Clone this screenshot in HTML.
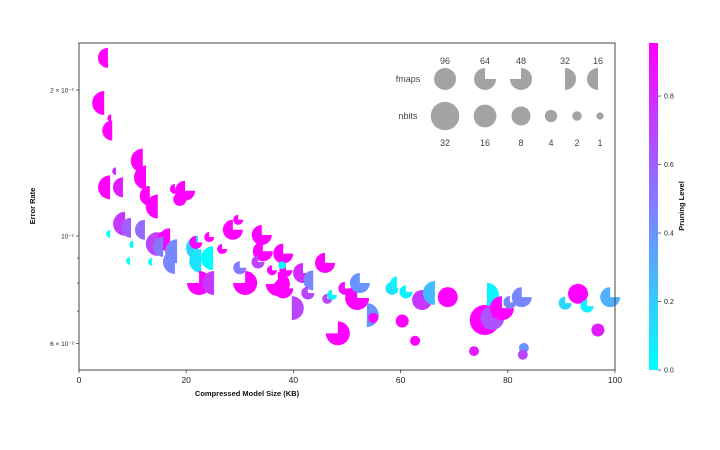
<!DOCTYPE html>
<html><head><meta charset="utf-8">
<style>
html,body{margin:0;padding:0;background:#fff;}
svg{display:block;font-family:"Liberation Sans","DejaVu Sans",sans-serif;}
</style></head>
<body>
<svg id="chart" width="720" height="450" viewBox="0 0 720 450">
  <defs>
    <linearGradient id="cbar" x1="0" y1="1" x2="0" y2="0">
      <stop offset="0" stop-color="#00ffff"/>
      <stop offset="1" stop-color="#ff00ff"/>
    </linearGradient>
  </defs>
  <g id="marks"></g>
  <rect x="79" y="43" width="536" height="327" fill="none" stroke="#444" stroke-width="1"/>
  <g id="axes"></g>
  <text x="247" y="396" font-size="7.5" font-weight="bold" text-anchor="middle" fill="#111">Compressed Model Size (KB)</text>
  <text x="0" y="0" font-size="7.5" font-weight="bold" text-anchor="middle" fill="#111" transform="translate(35,206) rotate(-90)">Error Rate</text>
  <g id="legend"></g>
  <rect x="649" y="43" width="9" height="327" fill="url(#cbar)"/>
  <g id="cbticks"></g>
  <text x="0" y="0" font-size="7.5" font-weight="bold" text-anchor="middle" fill="#111" transform="translate(684,206) rotate(-90)">Pruning Level</text>
</svg>
<script>
// data: model size (KB), error rate, pruning level, fmaps, nbits
const sizes = [5.4,4.7,6.0,6.2,5.8,8.2,6.9,11.9,12.5,13.2,14.7,19.8,18.8,17.9,8.6,9.7,12.3,15.3,14.7,17.0,18.3,17.9,22.2,22.8,25.0,5.8,10.1,9.5,13.6,22.4,25.2,31.0,37.1,34.3,28.7,29.7,34.1,24.3,21.8,26.7,30.0,33.4,38.6,36.0,38.1,37.9,41.8,45.9,43.7,38.1,42.7,39.7,46.3,47.2,49.6,51.9,52.4,53.7,54.9,48.3,60.3,62.7,59.3,58.4,61.0,64.0,66.4,68.8,76.1,75.7,77.1,78.9,80.4,82.6,83.0,82.8,73.7,90.7,93.1,94.8,96.8,99.1,15.7];
const errors = [0.233,0.188,0.175,0.165,0.126,0.126,0.136,0.143,0.132,0.121,0.115,0.124,0.119,0.125,0.106,0.104,0.103,0.0995,0.0963,0.098,0.093,0.0884,0.0945,0.0888,0.090,0.101,0.096,0.0888,0.0884,0.080,0.080,0.080,0.0796,0.093,0.103,0.108,0.1005,0.0995,0.097,0.094,0.086,0.0884,0.085,0.085,0.092,0.087,0.0839,0.088,0.081,0.078,0.0763,0.071,0.0742,0.0756,0.078,0.0745,0.080,0.0687,0.0678,0.063,0.0668,0.0608,0.080,0.078,0.0767,0.0738,0.0763,0.0748,0.0756,0.0671,0.0678,0.071,0.073,0.0748,0.0588,0.0569,0.0579,0.0727,0.076,0.0717,0.064,0.0748,0.095];
const pruning = [0.95,0.95,0.95,0.95,0.95,0.85,0.8,0.95,0.95,0.95,0.95,0.95,0.95,0.95,0.75,0.6,0.55,0.85,0.7,0.95,0.45,0.45,0.15,0.1,0.0,0.0,0.0,0.0,0.0,0.95,0.75,0.95,0.95,0.95,0.95,0.95,0.95,0.95,0.95,0.95,0.5,0.7,0.95,0.95,0.95,0.0,0.8,0.95,0.45,0.95,0.7,0.7,0.7,0.05,0.9,0.95,0.4,0.4,0.95,0.95,0.95,0.95,0.05,0.1,0.05,0.75,0.25,0.95,0.05,0.95,0.65,0.95,0.45,0.45,0.4,0.7,0.85,0.15,0.95,0.05,0.85,0.3,0.5];
const fmaps = [16,16,16,16,16,16,16,16,16,16,16,64,64,64,16,16,16,16,16,16,16,16,16,16,16,16,16,16,16,48,16,48,48,64,64,64,64,64,64,64,64,64,64,64,64,96,64,64,16,64,64,32,64,64,64,64,64,32,96,48,96,96,16,64,64,96,16,96,32,96,64,64,64,64,96,96,96,64,96,64,96,64,16];
const nbits = [8,16,1,8,16,8,1,16,16,8,16,8,4,2,16,8,8,2,16,16,16,16,16,16,16,1,1,1,1,16,16,16,16,8,8,2,8,2,4,2,4,4,4,2,8,1,8,8,8,8,4,16,2,2,4,16,8,16,2,16,4,2,4,4,4,8,16,8,16,32,16,16,4,8,2,2,2,4,8,4,4,8,8];
const xTicks = [0,20,40,60,80,100];
const yTickVals = [0.2,0.1,0.06];
const yTickLabels = ["2 × 10⁻¹","10⁻¹","6 × 10⁻²"];
const yMinorVals = [0.07,0.08,0.09];
const cbTicks = [0.0,0.2,0.4,0.6,0.8];
const legendFmaps = [96,64,48,32,16];
const legendNbits = [32,16,8,4,2,1];

const NS="http://www.w3.org/2000/svg";
const X0=79, X1=615, Y0=43, Y1=370;
const xScale = v => X0 + (v/100)*(X1-X0);
const yScale = v => 236 - Math.log10(v/0.1)*485;
const cbScale = v => 370 - (v/0.955)*327;
const rScale = b => ({32:15,16:12,8:10,4:6.5,2:5,1:3.8})[b];
function color(p){const t=Math.max(0,Math.min(1,p/0.955));return `rgb(${Math.round(255*t)},${Math.round(255*(1-t))},255)`;}
function wedgePath(cx,cy,r,f){
  let a0,a1;
  if(f===96) return null;
  if(f===64){a0=0;a1=270;} else if(f===48){a0=270;a1=540;}
  else if(f===32){a0=-90;a1=90;} else {a0=90;a1=270;}
  const rad=d=>d*Math.PI/180;
  const x0=cx+r*Math.cos(rad(a0)), y0=cy+r*Math.sin(rad(a0));
  const x1=cx+r*Math.cos(rad(a1)), y1=cy+r*Math.sin(rad(a1));
  const large=(a1-a0)>180?1:0;
  if(f===32||f===16) return `M${x0},${y0} A${r},${r} 0 0 1 ${x1},${y1} Z`;
  return `M${cx},${cy} L${x0},${y0} A${r},${r} 0 ${large} 1 ${x1},${y1} Z`;
}
function marker(parent,cx,cy,r,f,fill,name){
  const d=wedgePath(cx,cy,r,f);
  let el;
  if(d===null){el=document.createElementNS(NS,"circle");el.setAttribute("cx",cx);el.setAttribute("cy",cy);el.setAttribute("r",r);}
  else{el=document.createElementNS(NS,"path");el.setAttribute("d",d);}
  el.setAttribute("fill",fill);
  
  
  parent.appendChild(el);
  return el;
}
const marks=document.getElementById("marks");
for(let i=0;i<sizes.length;i++){
  marker(marks,xScale(sizes[i]),yScale(errors[i]),rScale(nbits[i]),fmaps[i],color(pruning[i]),"data-point");
}
function txt(parent,x,y,s,size,anchor,name,fill){
  const t=document.createElementNS(NS,"text");
  t.setAttribute("x",x);t.setAttribute("y",y);t.setAttribute("font-size",size);
  t.setAttribute("text-anchor",anchor);t.setAttribute("fill",fill||"#222");
  t.textContent=s;
  
  
  parent.appendChild(t);return t;
}
function line(parent,x1,y1,x2,y2,name){
  const l=document.createElementNS(NS,"line");
  l.setAttribute("x1",x1);l.setAttribute("y1",y1);l.setAttribute("x2",x2);l.setAttribute("y2",y2);
  l.setAttribute("stroke","#444");l.setAttribute("stroke-width","0.8");
  
  
  parent.appendChild(l);
}
const axes=document.getElementById("axes");
xTicks.forEach(v=>{const x=xScale(v);line(axes,x,Y1,x,Y1+3,"x-tick");txt(axes,x,Y1+13,String(v),8.5,"middle","x-tick-label");});
yTickVals.forEach((v,i)=>{const y=yScale(v);line(axes,X0-3,y,X0,y,"y-tick");txt(axes,X0-5,y+2.5,yTickLabels[i],6.5,"end","y-tick-label");});
yMinorVals.forEach(v=>{const y=yScale(v);line(axes,X0-2,y,X0,y,"y-minor-tick");});
const cb=document.getElementById("cbticks");
cbTicks.forEach(v=>{const y=cbScale(v);line(cb,658,y,661,y,"colorbar-tick");txt(cb,664,y+2.5,v.toFixed(1),7,"start","colorbar-tick-label");});
// legend
const lg=document.getElementById("legend");
const lfx=[445,485,521,565,598], lnx=[445,485,521,551,577,600];
txt(lg,408,82,"fmaps",9,"middle","legend-fmaps-label","#444");
txt(lg,408,119,"nbits",9,"middle","legend-nbits-label","#444");
legendFmaps.forEach((f,i)=>{txt(lg,lfx[i],64,String(f),9,"middle","legend-fmaps-value","#444");marker(lg,lfx[i],79,11,f,"#a3a3a3","legend-fmaps-marker");});
legendNbits.forEach((b,i)=>{txt(lg,lnx[i],146,String(b),9,"middle","legend-nbits-value","#444");marker(lg,lnx[i],116,rScale(b)*0.95,96,"#a3a3a3","legend-nbits-marker");});
</script>
</body></html>
